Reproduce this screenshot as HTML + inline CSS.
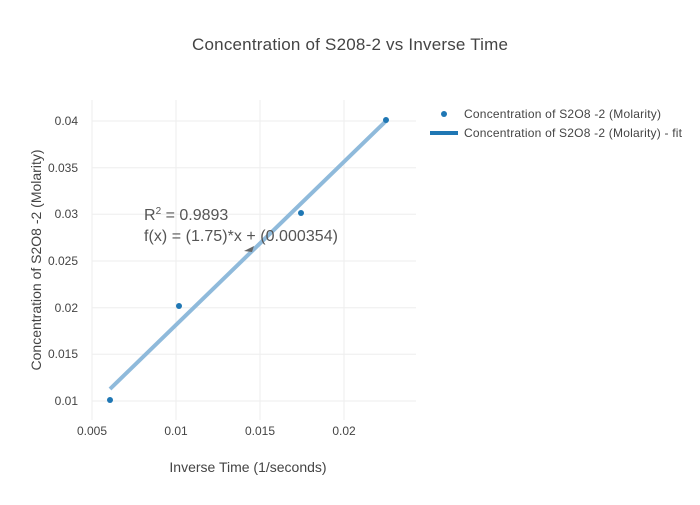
<!DOCTYPE html><html><head><style>body{margin:0;background:#fff}text{font-family:"Liberation Sans",sans-serif}</style></head><body>
<svg width="700" height="500" xmlns="http://www.w3.org/2000/svg">
<rect width="700" height="500" fill="#fff"/>
<g stroke="#eee" stroke-width="1">
<line x1="92" x2="92" y1="100" y2="420"/><line x1="176" x2="176" y1="100" y2="420"/><line x1="260" x2="260" y1="100" y2="420"/><line x1="344" x2="344" y1="100" y2="420"/>
<line x1="92" x2="416" y1="121" y2="121"/><line x1="92" x2="416" y1="167.7" y2="167.7"/><line x1="92" x2="416" y1="214.3" y2="214.3"/><line x1="92" x2="416" y1="261" y2="261"/><line x1="92" x2="416" y1="307.7" y2="307.7"/><line x1="92" x2="416" y1="354.3" y2="354.3"/><line x1="92" x2="416" y1="401" y2="401"/>
</g>
<text x="192" y="50" font-size="17" fill="#444" textLength="316">Concentration of S208-2 vs Inverse Time</text>
<g font-size="12" fill="#444" text-anchor="middle">
<text x="92" y="435">0.005</text><text x="176" y="435">0.01</text><text x="260" y="435">0.015</text><text x="344" y="435">0.02</text>
</g>
<g font-size="12" fill="#444" text-anchor="end">
<text x="78" y="125">0.04</text><text x="78" y="172">0.035</text><text x="78" y="218">0.03</text><text x="78" y="265">0.025</text><text x="78" y="312">0.02</text><text x="78" y="358">0.015</text><text x="78" y="405">0.01</text>
</g>
<text x="248" y="472" font-size="14" fill="#444" text-anchor="middle">Inverse Time (1/seconds)</text>
<text transform="translate(41,260) rotate(-90)" font-size="14" fill="#444" text-anchor="middle">Concentration of S2O8 -2 (Molarity)</text>
<line x1="110" y1="389" x2="386" y2="121" stroke="#8fbadb" stroke-width="4"/>
<g fill="#1f77b4"><circle cx="110" cy="400" r="3"/><circle cx="179" cy="306" r="3"/><circle cx="301" cy="213" r="3"/><circle cx="386" cy="120" r="3"/></g>
<polygon points="244,251 254,246 252,252" fill="#666"/>
<text x="144" y="220" font-size="16" fill="#555">R<tspan dy="-6" font-size="10">2</tspan><tspan dy="6"> = 0.9893</tspan></text>
<text x="144" y="241" font-size="16" fill="#555" textLength="194">f(x) = (1.75)*x + (0.000354)</text>
<circle cx="444" cy="114" r="3" fill="#1f77b4"/>
<text x="464" y="118" font-size="12" fill="#444" textLength="197">Concentration of S2O8 -2 (Molarity)</text>
<line x1="430" x2="458" y1="133" y2="133" stroke="#1f77b4" stroke-width="4"/>
<text x="464" y="137" font-size="12" fill="#444" textLength="218">Concentration of S2O8 -2 (Molarity) - fit</text>
</svg></body></html>
